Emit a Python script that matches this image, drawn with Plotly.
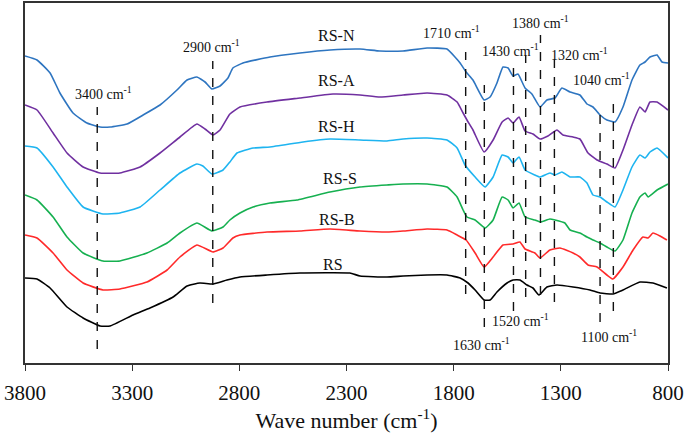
import plotly.graph_objects as go

# ---- data: wavenumber (cm-1) and offset transmittance (a.u.) ----
wn_RSN = [3800, 3744, 3683, 3637, 3576, 3511, 3450, 3403, 3324, 3249, 3170, 3091, 3044, 2998, 2960, 2928, 2890, 2853, 2830, 2783, 2657, 2517, 2377, 2237, 2144, 2036, 1924, 1831, 1794, 1770, 1742, 1710, 1658, 1630, 1598, 1570, 1546, 1523, 1500, 1467, 1435, 1397, 1365, 1327, 1295, 1257, 1211, 1178, 1150, 1117, 1085, 1047, 1010, 968, 931, 907, 884, 851, 828, 800]
t_RSN = [307, 303, 290, 270, 250, 240, 236, 236, 239, 248, 258, 273, 283, 286, 281, 274, 277, 285, 295, 300, 306, 310, 313, 314, 312, 312, 315, 314, 306, 300, 291, 283, 263, 266, 280, 296, 295, 287, 289, 275, 269, 256, 263, 265, 275, 271, 268, 259, 256, 248, 243, 241, 256, 283, 298, 301, 306, 308, 301, 300]

wn_RSA = [3800, 3744, 3669, 3604, 3529, 3450, 3357, 3263, 3170, 3077, 2998, 2960, 2923, 2890, 2844, 2797, 2671, 2517, 2363, 2237, 2144, 2036, 1924, 1831, 1784, 1756, 1738, 1710, 1658, 1616, 1574, 1546, 1523, 1495, 1467, 1430, 1397, 1360, 1318, 1290, 1243, 1211, 1173, 1131, 1085, 1047, 1010, 968, 931, 907, 884, 851, 800]
t_RSA = [258, 253, 230, 210, 196, 190, 190, 196, 210, 226, 239, 234, 228, 233, 249, 256, 261, 265, 269, 268, 266, 268, 270, 268, 261, 250, 243, 233, 211, 223, 241, 245, 240, 246, 232, 229, 224, 227, 233, 228, 226, 224, 210, 203, 199, 195, 213, 238, 256, 251, 261, 261, 253]

wn_RSH = [3800, 3744, 3669, 3604, 3529, 3436, 3357, 3263, 3170, 3077, 2998, 2970, 2928, 2876, 2844, 2811, 2736, 2657, 2503, 2377, 2237, 2111, 2036, 1924, 1831, 1784, 1747, 1700, 1653, 1616, 1574, 1546, 1523, 1495, 1467, 1421, 1397, 1351, 1327, 1295, 1257, 1211, 1178, 1150, 1117, 1085, 1047, 1010, 968, 931, 907, 884, 851, 800]
t_RSH = [217, 215, 196, 176, 156, 149, 150, 156, 173, 190, 199, 197, 189, 193, 201, 210, 215, 216, 221, 224, 223, 222, 224, 225, 223, 215, 198, 186, 176, 186, 208, 206, 200, 206, 193, 188, 186, 190, 188, 191, 186, 186, 180, 168, 166, 161, 156, 173, 196, 208, 205, 211, 215, 205]

wn_RSS = [3800, 3744, 3669, 3604, 3529, 3436, 3357, 3231, 3137, 3077, 2998, 2928, 2876, 2844, 2797, 2736, 2657, 2531, 2377, 2237, 2111, 2036, 1924, 1831, 1784, 1756, 1738, 1700, 1653, 1616, 1574, 1546, 1523, 1495, 1467, 1421, 1397, 1351, 1327, 1281, 1257, 1211, 1178, 1150, 1117, 1085, 1047, 1010, 968, 931, 907, 893, 851, 800]
t_RSS = [168, 163, 146, 126, 110, 102, 102, 110, 120, 130, 140, 132, 136, 143, 150, 156, 160, 163, 171, 176, 178, 179, 179, 176, 166, 153, 146, 143, 135, 143, 166, 163, 155, 160, 146, 143, 141, 144, 143, 140, 133, 130, 126, 123, 120, 116, 112, 123, 150, 166, 170, 166, 173, 179]

wn_RSB = [3800, 3744, 3669, 3604, 3529, 3436, 3357, 3231, 3137, 3077, 2998, 2923, 2876, 2830, 2797, 2671, 2517, 2377, 2237, 2111, 2036, 1924, 1831, 1784, 1742, 1700, 1658, 1616, 1570, 1523, 1491, 1467, 1421, 1397, 1351, 1304, 1243, 1211, 1173, 1131, 1085, 1057, 1010, 963, 917, 893, 870, 837, 805]
t_RSB = [128, 125, 110, 93, 80, 73, 74, 81, 93, 106, 118, 111, 115, 125, 128, 131, 132, 134, 132, 131, 132, 134, 133, 128, 123, 110, 96, 106, 118, 119, 121, 114, 110, 105, 113, 115, 110, 106, 98, 96, 88, 84, 96, 113, 126, 125, 130, 127, 123]

wn_RS = [3800, 3744, 3683, 3604, 3529, 3450, 3403, 3296, 3217, 3109, 3044, 2984, 2923, 2858, 2797, 2671, 2517, 2284, 2237, 2111, 2036, 1924, 1831, 1770, 1733, 1700, 1658, 1630, 1598, 1551, 1523, 1491, 1458, 1430, 1402, 1365, 1318, 1243, 1164, 1117, 1057, 1010, 931, 870, 805]
t_RS = [85, 84, 75, 56, 45, 37, 37, 48, 55, 66, 77, 80, 79, 83, 86, 88, 90, 90, 87, 86, 87, 88, 88, 85, 80, 73, 63, 63, 71, 80, 83, 83, 78, 75, 68, 76, 78, 76, 73, 70, 69, 73, 81, 80, 75]

series_names = ["RS-N", "RS-A", "RS-H", "RS-S", "RS-B", "RS"]
series_colors = ["#2E75C0", "#7030A0", "#1EB4F0", "#16B050", "#FF2A2A", "#000000"]

# marker (dashed) lines: position, extent
peak_wn = [3463, 2924, 1744, 1657, 1521, 1464, 1395, 1330, 1117, 1055]
peak_top = [256, 302, 311, 278, 295, 308, 328, 313, 256, 266]
peak_bottom = [14, 60, 69, 36, 52, 66, 68, 61, 41, 52]

peak_labels = ["3400", "2900", "1710", "1630", "1520", "1430", "1380", "1320", "1100", "1040"]

xtick_vals = [3800, 3300, 2800, 2300, 1800, 1300, 800]

FONT = "Liberation Serif, Times New Roman, serif"

fig = go.Figure()

all_x = [wn_RSN, wn_RSA, wn_RSH, wn_RSS, wn_RSB, wn_RS]
all_y = [t_RSN, t_RSA, t_RSH, t_RSS, t_RSB, t_RS]
for name, col, xs, ys in zip(series_names, series_colors, all_x, all_y):
    fig.add_trace(go.Scatter(x=xs, y=ys, mode="lines", name=name,
                             line=dict(color=col, width=1.6, shape="spline", smoothing=0.4),
                             showlegend=False))

for xv, yt, yb in zip(peak_wn, peak_top, peak_bottom):
    fig.add_trace(go.Scatter(x=[xv, xv], y=[yb, yt], mode="lines",
                             line=dict(color="#111111", width=1.4, dash="dash"),
                             showlegend=False, hoverinfo="skip"))

# label placement (axis units)
label_pos = {
    "3400": (3436, 270), "2900": (2932, 317), "1710": (1808, 331), "1430": (1537, 313),
    "1380": (1397, 341), "1320": (1215, 309), "1040": (1108, 284), "1630": (1668, 19),
    "1520": (1486, 43), "1100": (1075, 27),
}
for lab in peak_labels:
    x, y = label_pos[lab]
    fig.add_annotation(x=x, y=y, text=f"{lab} cm<sup>-1</sup>", showarrow=False,
                       font=dict(family=FONT, size=14, color="#111111"))

name_pos = [(2349, 328), (2349, 283), (2349, 237), (2330, 185), (2344, 144), (2363, 99)]
for name, (x, y) in zip(series_names, name_pos):
    fig.add_annotation(x=x, y=y, text=name, showarrow=False,
                       font=dict(family=FONT, size=16, color="#111111"))

fig.update_layout(
    width=685, height=438,
    margin=dict(l=25, r=17, t=3, b=75, autoexpand=False),
    paper_bgcolor="white", plot_bgcolor="white",
    font=dict(family=FONT, color="#111111"),
)
fig.update_xaxes(range=[3800, 800], tickvals=xtick_vals, ticktext=[str(v) for v in xtick_vals],
                 ticks="outside", ticklen=6, tickwidth=1.4, tickcolor="#333333",
                 ticklabelstandoff=4,
                 showline=True, linecolor="#333333", linewidth=1.5, mirror=True,
                 showgrid=False, zeroline=False, automargin=False,
                 tickfont=dict(family=FONT, size=21, color="#111111"),
                 title=dict(text="Wave number (cm<sup>-1</sup>)", standoff=8,
                            font=dict(family=FONT, size=22, color="#111111")))
fig.update_yaxes(range=[0, 360], showticklabels=False, ticks="",
                 showline=True, linecolor="#333333", linewidth=1.5, mirror=True,
                 showgrid=False, zeroline=False, automargin=False)

fig.write_html("out.html", config={"displayModeBar": False},
               post_script="document.body.style.margin='0';document.body.style.overflow='hidden';")
